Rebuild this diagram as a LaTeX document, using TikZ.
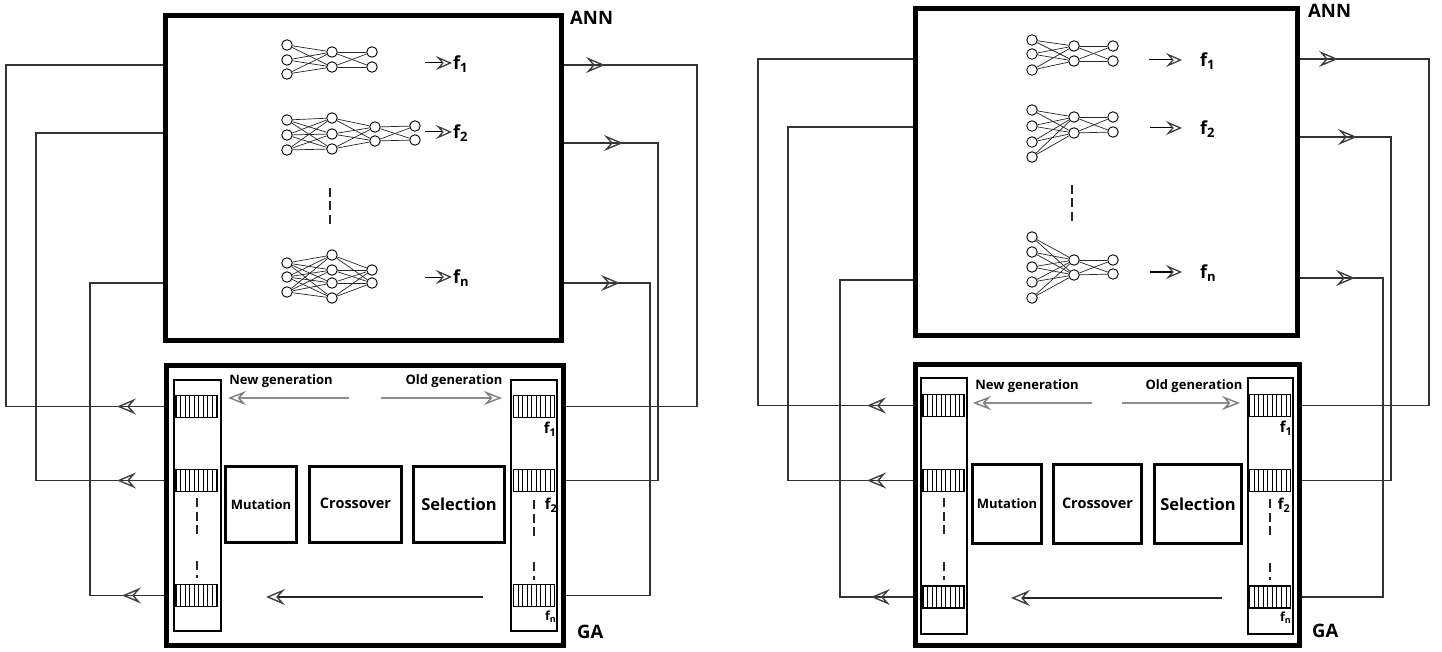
\documentclass[tikz,border=0pt]{standalone}
\usepackage{fontspec}
\setmainfont{Open Sans}
\usetikzlibrary{arrows.meta,calc,decorations.markings}

\newcommand\fs[1]{f\raisebox{-0.35ex}{\scalebox{0.72}{#1}}}
% box by corners: style, name, x1, y1, x2, y2, text
\newcommand\boxat[7]{\node[#1, minimum width={#5-#3}, minimum height={#6-#4}] (#2) at ({(#3+#5)/2},{(#4+#6)/2}) {#7};}
\newcommand\nnlayer[3]{\foreach \yy [count=\k] in {#3} {\node[neuron] (#1-\k) at (#2,\yy) {};}}
\newcommand\nnlink[4]{\foreach \i in {1,...,#2} {\foreach \j in {1,...,#4} {\draw[nnedge] (#1-\i) -- (#3-\j);}}}

\tikzset{
  flowtip/.tip={Stealth[open, length=19pt, width=16pt, inset=7pt, line width=1.4pt, color=black!75]},
  smalltip/.tip={Stealth[open, length=16pt, width=14pt, inset=6pt, line width=1.3pt, color=black!75]},
  graytip/.tip={Stealth[open, length=18pt, width=14pt, inset=6.5pt, line width=1.4pt, color=black!50]},
  annbox/.style={draw, line width=5pt, inner sep=0pt},
  colbox/.style={draw, line width=2pt, inner sep=0pt},
  opbox/.style={draw, line width=3pt, inner sep=0pt, font=\bfseries\fontsize{13}{15}\selectfont},
  chrom/.style={draw, line width=1.2pt, minimum width=41pt, minimum height=22pt, inner sep=0pt,
    path picture={\foreach \i in {1,...,8}{\draw[line width=0.8pt]
      ($(path picture bounding box.south west)!\i/9!(path picture bounding box.south east)$) --
      ($(path picture bounding box.north west)!\i/9!(path picture bounding box.north east)$);}}},
  neuron/.style={circle, draw, line width=0.9pt, fill=white, minimum size=10.5pt, inner sep=0pt},
  nnedge/.style={line width=0.7pt, black!85},
  link/.style={line width=1.1pt, black!80},
  midarrow/.style={postaction={decorate, decoration={markings, mark=at position #1 with {\arrow{flowtip}}}}},
  grayarrow/.style={line width=2pt, black!45, -{graytip}},
  botarrow/.style={line width=1.1pt, black!85, -{flowtip}},
  netarrow/.style={line width=1pt, black, -{smalltip}},
  dashline/.style={line width=1.1pt, dash pattern=on 9pt off 4.5pt, black!85},
  gentext/.style={font=\bfseries\fontsize{13}{15}\selectfont, inner sep=0pt},
  flab/.style={font=\bfseries\fontsize{18}{20}\selectfont, inner sep=1pt},
  fsmall/.style={font=\bfseries\fontsize{15}{17}\selectfont, inner sep=0pt},
  fsmaller/.style={font=\bfseries\fontsize{12.5}{14}\selectfont, inner sep=0pt},
  titletext/.style={font=\bfseries\fontsize{18.5}{20}\selectfont, inner sep=0pt},
}

\begin{document}
\begin{tikzpicture}[x=1pt,y=-1pt]
\useasboundingbox[fill=white] (0,0) rectangle (1442,652);

% ================= LEFT PANEL =================
\boxat{annbox}{Lann}{165.5}{15.5}{561}{340}{}
\boxat{annbox}{Lga}{166.5}{365.5}{563}{645}{}
\node[titletext, anchor=west] (LannT) at (570,18) {ANN};
\node[titletext, anchor=west] (LgaT) at (577,632) {GA};

% networks
\nnlayer{La}{287}{45,60,74}
\nnlayer{Lb}{332}{52,67}
\nnlayer{Lc}{372}{52,67}
\nnlink{La}{3}{Lb}{2}
\nnlink{Lb}{2}{Lc}{2}

\nnlayer{Ld}{287}{120,135,150}
\nnlayer{Le}{332}{118,134,149}
\nnlayer{Lf}{375}{127,141}
\nnlayer{Lg}{415}{126,140}
\nnlink{Ld}{3}{Le}{3}
\nnlink{Le}{3}{Lf}{2}
\nnlink{Lf}{2}{Lg}{2}

\nnlayer{Lh}{287}{263,277,292}
\nnlayer{Li}{332}{255,270,283,298}
\nnlayer{Lj}{372}{270,283}
\nnlink{Lh}{3}{Li}{4}
\nnlink{Li}{4}{Lj}{2}

\draw[dashline] (330,188) -- (330,228);

\node[flab, anchor=west] (Llab1) at (452,64) {\fs1};
\node[flab, anchor=west] (Llab2) at (452,133) {\fs2};
\node[flab, anchor=west] (Llab3) at (452,278) {\fs{n}};
\coordinate (Lfa1) at (425,63);
\coordinate (Lfa2) at (425,132);
\coordinate (Lfa3) at (425,277);
\draw[netarrow] (Lfa1) -- (Lfa1 -| Llab1.west);
\draw[netarrow] (Lfa2) -- (Lfa2 -| Llab2.west);
\draw[netarrow] (Lfa3) -- (Lfa3 -| Llab3.west);

% GA internals
\boxat{colbox}{Lcoln}{174}{380}{221}{631}{}
\boxat{colbox}{Lcolo}{511}{380}{557}{631}{}
\node[chrom] (Ln1) at (196.5,406.5) {};
\node[chrom] (Ln2) at (196.5,480.5) {};
\node[chrom] (Ln3) at (196.5,595.5) {};
\node[chrom] (Lm1) at (534,406.5) {};
\node[chrom] (Lm2) at (534,480.5) {};
\node[chrom] (Lm3) at (534,595.5) {};
\draw[dashline] (197,498) -- (197,535);
\draw[dashline] (197,561) -- (197,578);
\draw[dashline] (534,500) -- (534,537);
\draw[dashline] (534,562) -- (534,580);
\node[fsmall, anchor=east] (Lg1) at (556,429) {\fs1};
\node[fsmall, anchor=east] (Lg2) at (557,505) {\fs2};
\node[fsmaller, anchor=east] (Lg3) at (556,617) {\fs{n}};

\boxat{opbox}{Lmut}{225.5}{466.5}{296.5}{542.5}{Mutation}
\boxat{opbox, font=\bfseries\fontsize{14.5}{16}\selectfont}{Lcro}{309.5}{466.5}{401.5}{542.5}{\raisebox{2pt}{Crossover}}
\boxat{opbox, font=\bfseries\fontsize{16.5}{18}\selectfont}{Lsel}{413.5}{466.5}{504.5}{542.5}{Selection}

\node[gentext] (Lnewt) at (281,381) {New generation};
\node[gentext] (Loldt) at (454,381) {Old generation};
\coordinate (Lna) at (349,398);
\coordinate (Lnb) at (228,398);
\coordinate (Loa) at (381,398);
\coordinate (Lob) at (502,398);
\draw[grayarrow] (Lna) -- (Lnb);
\draw[grayarrow] (Loa) -- (Lob);
\coordinate (Lba) at (483,597);
\coordinate (Lbb) at (266,597);
\draw[botarrow] (Lba) -- (Lbb);

% feedback connectors
\coordinate (Lo1) at (6,65);
\coordinate (Lo2) at (36,133);
\coordinate (Lo3) at (90,283);
\draw[link, midarrow=47pt] (Lga.west |- Ln1) -| (Lo1) -- (Lann.west |- Lo1);
\draw[link, midarrow=47pt] (Lga.west |- Ln2) -| (Lo2) -- (Lann.west |- Lo2);
\draw[link, midarrow=42pt] (Lga.west |- Ln3) -| (Lo3) -- (Lann.west |- Lo3);
\coordinate (Lr1) at (697,65);
\coordinate (Lr2) at (658,143);
\coordinate (Lr3) at (650,283);
\draw[link, midarrow=41.5pt] (Lann.east |- Lr1) -- (Lr1) |- (Lga.east |- Lm1);
\draw[link, midarrow=59.5pt] (Lann.east |- Lr2) -- (Lr2) |- (Lga.east |- Lm2);
\draw[link, midarrow=56.5pt] (Lann.east |- Lr3) -- (Lr3) |- (Lga.east |- Lm3);

% ================= RIGHT PANEL =================
\boxat{annbox}{Rann}{915}{8.5}{1297.5}{335.5}{}
\boxat{annbox}{Rga}{915}{364.5}{1299.5}{645.5}{}
\node[titletext, anchor=west] (RannT) at (1308,11) {ANN};
\node[titletext, anchor=west] (RgaT) at (1312,631) {GA};

\nnlayer{Ra}{1032}{40,54,70}
\nnlayer{Rb}{1074}{46,61}
\nnlayer{Rc}{1113}{46,61}
\nnlink{Ra}{3}{Rb}{2}
\nnlink{Rb}{2}{Rc}{2}

\nnlayer{Rd}{1032}{110,126,142,157}
\nnlayer{Re}{1074}{117,133}
\nnlayer{Rf}{1113}{117,132}
\nnlink{Rd}{4}{Re}{2}
\nnlink{Re}{2}{Rf}{2}

\nnlayer{Rg}{1032}{237,252,267,282,298}
\nnlayer{Rh}{1074}{260,275}
\nnlayer{Ri}{1113}{260,274}
\nnlink{Rg}{5}{Rh}{2}
\nnlink{Rh}{2}{Ri}{2}

\draw[dashline] (1072,185) -- (1072,222);

\node[flab, anchor=west] (Rlab1) at (1199,61) {\fs1};
\node[flab, anchor=west] (Rlab2) at (1199,129) {\fs2};
\node[flab, anchor=west] (Rlab3) at (1199,273) {\fs{n}};
\coordinate (Rfa1) at (1149,60);
\coordinate (Rfa2) at (1150,128);
\coordinate (Rfa3) at (1150,272);
\draw[netarrow] (Rfa1) -- ++(33,0) coordinate (Rfb1);
\draw[netarrow] (Rfa2) -- ++(32,0) coordinate (Rfb2);
\draw[netarrow] (Rfa3) -- ++(32,0) coordinate (Rfb3);

\boxat{colbox}{Rcoln}{921}{378}{967}{634}{}
\boxat{colbox}{Rcolo}{1248}{378}{1293}{634}{}
\node[chrom] (Rn1) at (943.5,405.5) {};
\node[chrom] (Rn2) at (943.5,480.5) {};
\node[chrom] (Rn3) at (943.5,597) {};
\node[chrom] (Rm1) at (1270,405.5) {};
\node[chrom] (Rm2) at (1270,480.5) {};
\node[chrom] (Rm3) at (1270,597) {};
\draw[dashline] (944,498) -- (944,535);
\draw[dashline] (944,562) -- (944,580);
\draw[dashline] (1270,499) -- (1270,536);
\draw[dashline] (1270,563) -- (1270,580);
\node[fsmall, anchor=east] (Rg1) at (1292,428) {\fs1};
\node[fsmall, anchor=east] (Rg2) at (1290,505) {\fs2};
\node[fsmaller, anchor=east] (Rg3) at (1291,618) {\fs{n}};

\boxat{opbox}{Rmut}{972.5}{464.5}{1041.5}{543.5}{Mutation}
\boxat{opbox, font=\bfseries\fontsize{14.5}{16}\selectfont}{Rcro}{1053.5}{464.5}{1141.5}{543.5}{\raisebox{2pt}{Crossover}}
\boxat{opbox, font=\bfseries\fontsize{16.5}{18}\selectfont}{Rsel}{1154.5}{464.5}{1241.5}{543.5}{Selection}

\node[gentext] (Rnewt) at (1027,386) {New generation};
\node[gentext] (Roldt) at (1194,386) {Old generation};
\coordinate (Rna) at (1092,403);
\coordinate (Rnb) at (973,403);
\coordinate (Roa) at (1122,403);
\coordinate (Rob) at (1240,403);
\draw[grayarrow] (Rna) -- (Rnb);
\draw[grayarrow] (Roa) -- (Rob);
\coordinate (Rba) at (1222,598);
\coordinate (Rbb) at (1011,598);
\draw[botarrow] (Rba) -- (Rbb);

\coordinate (Ro1) at (758,59);
\coordinate (Ro2) at (788,127);
\coordinate (Ro3) at (840,280);
\draw[link, midarrow=45.5pt] (Rga.west |- Rn1) -| (Ro1) -- (Rann.west |- Ro1);
\draw[link, midarrow=45.5pt] (Rga.west |- Rn2) -| (Ro2) -- (Rann.west |- Ro2);
\draw[link, midarrow=41.5pt] (Rga.west |- Rn3) -| (Ro3) -- (Rann.west |- Ro3);
\coordinate (Rr1) at (1429,59);
\coordinate (Rr2) at (1391,137);
\coordinate (Rr3) at (1383,278);
\draw[link, midarrow=38pt] (Rann.east |- Rr1) -- (Rr1) |- (Rga.east |- Rm1);
\draw[link, midarrow=57pt] (Rann.east |- Rr2) -- (Rr2) |- (Rga.east |- Rm2);
\draw[link, midarrow=55pt] (Rann.east |- Rr3) -- (Rr3) |- (Rga.east |- Rm3);
\end{tikzpicture}
\end{document}
